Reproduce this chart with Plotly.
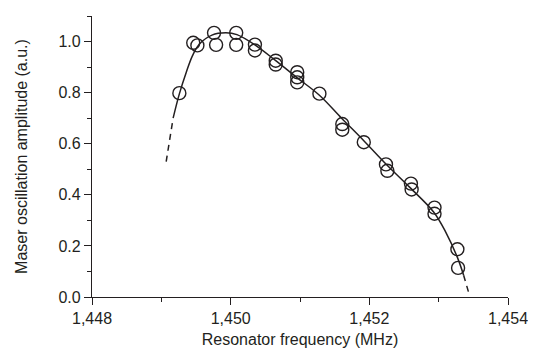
import plotly.graph_objects as go

# Measured data (open circles)
freq_mhz = [1449.26, 1449.46, 1449.52, 1449.76, 1449.79, 1450.08, 1450.08,
            1450.35, 1450.35, 1450.65, 1450.65, 1450.96, 1450.96, 1450.96,
            1451.28, 1451.61, 1451.61, 1451.92, 1452.24, 1452.26, 1452.60,
            1452.61, 1452.94, 1452.94, 1453.27, 1453.28]
amplitude = [0.798, 0.995, 0.985, 1.034, 0.987, 1.034, 0.987,
             0.988, 0.965, 0.925, 0.910, 0.880, 0.860, 0.840,
             0.796, 0.677, 0.655, 0.606, 0.519, 0.494, 0.444,
             0.421, 0.350, 0.326, 0.187, 0.114]

# Fitted curve (solid part)
curve_f = [1449.17, 1449.26, 1449.36, 1449.45, 1449.55, 1449.73, 1449.93,
           1450.09, 1450.36, 1450.65, 1450.96, 1451.28, 1451.60, 1451.92,
           1452.25, 1452.58, 1452.93, 1453.10, 1453.27, 1453.36]
curve_a = [0.700, 0.795, 0.880, 0.945, 0.990, 1.025, 1.034,
           1.027, 0.985, 0.925, 0.858, 0.790, 0.700, 0.612,
           0.518, 0.430, 0.332, 0.255, 0.155, 0.085]

# Dashed extrapolations
dash_left_f = [1449.07, 1449.17]
dash_left_a = [0.53, 0.70]
dash_right_f = [1453.36, 1453.43]
dash_right_a = [0.085, 0.02]

x_tickvals = [1448, 1450, 1452, 1454]
x_ticktext = ["1,448", "1,450", "1,452", "1,454"]
y_tickvals = [0.0, 0.2, 0.4, 0.6, 0.8, 1.0]
y_ticktext = ["0.0", "0.2", "0.4", "0.6", "0.8", "1.0"]

ink = "#231f20"
font = "Liberation Sans, Arial, sans-serif"

fig = go.Figure()
fig.add_trace(go.Scatter(x=curve_f, y=curve_a, mode="lines",
                         line=dict(color=ink, width=1.5, shape="spline"),
                         hoverinfo="skip"))
fig.add_trace(go.Scatter(x=dash_left_f, y=dash_left_a, mode="lines",
                         line=dict(color=ink, width=1.5, dash="6px,5px")))
fig.add_trace(go.Scatter(x=dash_right_f, y=dash_right_a, mode="lines",
                         line=dict(color=ink, width=1.5, dash="6px,5px")))
fig.add_trace(go.Scatter(x=freq_mhz, y=amplitude, mode="markers",
                         marker=dict(symbol="circle-open", size=13,
                                     color=ink, line=dict(width=1.4, color=ink))))

fig.update_layout(
    width=528, height=340,
    margin=dict(l=84, r=25, t=8, b=51),
    paper_bgcolor="white", plot_bgcolor="white",
    showlegend=False,
    font=dict(family=font, size=16, color=ink),
)
fig.update_xaxes(
    range=[1448, 1454], showgrid=False, zeroline=False,
    showline=True, linecolor=ink, linewidth=1.3,
    ticks="outside", ticklen=7, tickwidth=1.3, tickcolor=ink,
    tickvals=x_tickvals, ticktext=x_ticktext,
    tickfont=dict(size=16, color=ink),
    minor=dict(dtick=1, tick0=1448, ticks="outside", ticklen=4, tickwidth=1.3, tickcolor=ink),
    title=dict(text="Resonator frequency (MHz)", font=dict(size=16, color=ink), standoff=11),
    automargin="right",
)
fig.update_yaxes(
    range=[0, 1.1], showgrid=False, zeroline=False,
    showline=True, linecolor=ink, linewidth=1.3,
    ticks="outside", ticklen=7, tickwidth=1.3, tickcolor=ink,
    tickvals=y_tickvals, ticktext=y_ticktext,
    tickfont=dict(size=16, color=ink),
    minor=dict(dtick=0.1, tick0=0, ticks="outside", ticklen=4, tickwidth=1.3, tickcolor=ink),
    title=dict(text="Maser oscillation amplitude (a.u.)", font=dict(size=16, color=ink), standoff=26),
    automargin=False,
)

fig.write_html("out.html")
